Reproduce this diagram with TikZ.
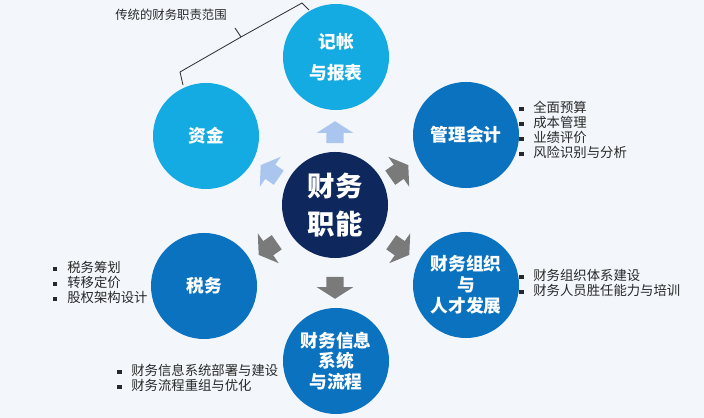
\documentclass[tikz,border=0pt]{standalone}
\usepackage{fontspec}
\setmainfont{Noto Sans CJK SC}
\usetikzlibrary{shapes.arrows}
\definecolor{cyanball}{RGB}{20,170,226}
\definecolor{blueball}{RGB}{11,114,192}
\definecolor{navyball}{RGB}{14,40,94}
\definecolor{paleblue}{RGB}{170,198,238}
\definecolor{darkgray}{RGB}{122,122,122}
\definecolor{listtext}{RGB}{40,40,40}
\definecolor{bgcol}{RGB}{243,247,252}
\newcommand{\sqb}{\rule[0.2ex]{3pt}{3pt}\hspace{7pt}}
\tikzset{
  ball/.style={circle,fill=#1,text=white,inner sep=0pt,minimum size=2.65cm,align=center,
    font=\bfseries\fontsize{12.6}{14.8}\selectfont},
  fatarrow/.style={single arrow,fill=#1,draw=none,inner xsep=0pt,inner ysep=0.21cm,
    minimum height=0.55cm,single arrow head extend=0.24cm,single arrow tip angle=115},
  bullets/.style={anchor=north west,align=left,inner sep=0pt,text=listtext,
    font=\fontsize{9.5}{10.7}\selectfont},
}
\begin{document}
\begin{tikzpicture}[x=0.025cm,y=-0.025cm]
\fill[bgcol] (0,0) rectangle (704,418);
\useasboundingbox (0,0) rectangle (704,418);
% the six functions around the hub
\node[ball=cyanball] (books) at (336,57) {记帐\\[7pt]与报表};
\node[ball=cyanball] (funds) at (206,136) {资金};
\node[ball=blueball] (mgmt) at (466,135) {管理会计};
\node[ball=blueball] (tax) at (204,286) {税务};
\node[ball=blueball] (org) at (466,285) {财务组织\\与\\人才发展};
\node[ball=blueball] (info) at (336,361) {财务信息\\系统\\与流程};
\node[circle,fill=navyball,text=white,inner sep=0pt,minimum size=2.65cm,align=center,
  font=\bfseries\fontsize{19.5}{27}\selectfont] (hub) at (335,205) {财务\\职能};
% arrows out of the hub
\node[fatarrow=paleblue,rotate=90] (toBooks) at (335,135) {};
\node[fatarrow=paleblue,rotate=145] (toFunds) at (272,173) {};
\node[fatarrow=darkgray,rotate=35] (toMgmt) at (397,173) {};
\node[fatarrow=darkgray,rotate=-35] (toOrg) at (398,247) {};
\node[fatarrow=darkgray,rotate=-145] (toTax) at (270,247) {};
\node[fatarrow=darkgray,rotate=-90] (toInfo) at (335,285) {};
% traditional scope bracket
\node[font=\fontsize{8.8}{10}\selectfont,text=listtext] (scope) at (171,15) {传统的财务职责范围};
\coordinate (brL) at (183,85);
\coordinate (brR) at (309,10);
\coordinate (brM) at (241,37);
\draw[black!80,line width=0.6pt] (brL) -- (180,72) -- (brM) -- (302,3) -- (brR);
\draw[black!80,line width=0.6pt] (brM) -- (235,28);
% task lists
\node[bullets] (mgmtList) at (519,101) {\sqb 全面预算\\\sqb 成本管理\\\sqb 业绩评价\\\sqb 风险识别与分析};
\node[bullets] (taxList) at (53,261) {\sqb 税务筹划\\\sqb 转移定价\\\sqb 股权架构设计};
\node[bullets] (orgList) at (519,269) {\sqb 财务组织体系建设\\\sqb 财务人员胜任能力与培训};
\node[bullets] (infoList) at (117,364) {\sqb 财务信息系统部署与建设\\\sqb 财务流程重组与优化};
\end{tikzpicture}
\end{document}
